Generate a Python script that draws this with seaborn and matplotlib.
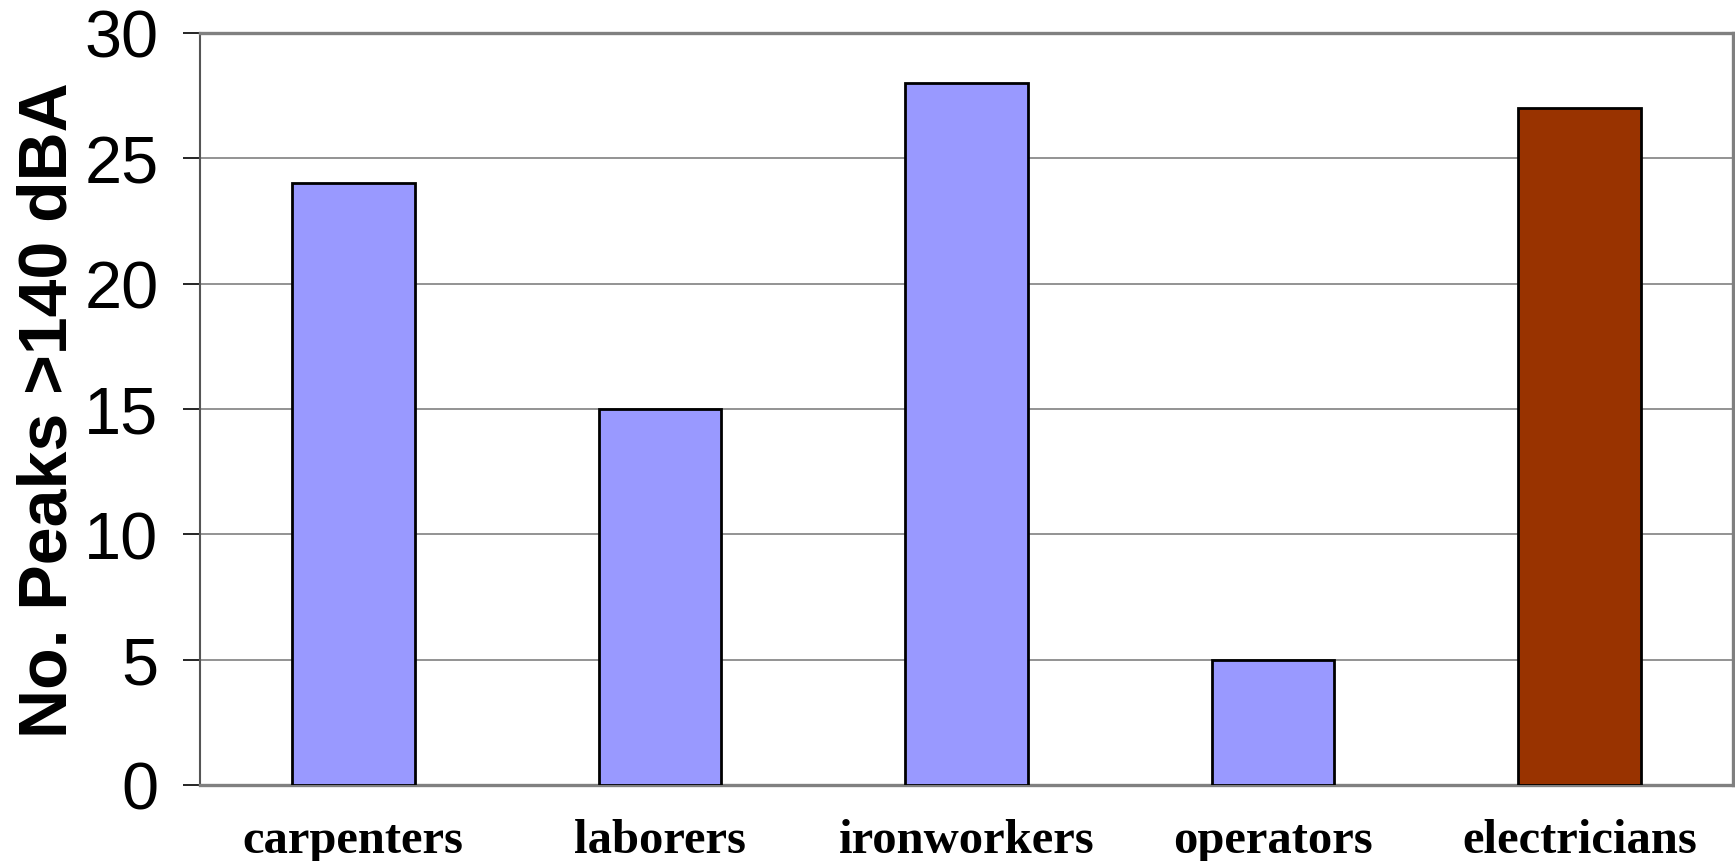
"""Bar chart: number of noise peaks above 140 dBA by construction trade."""

import matplotlib

matplotlib.use("Agg")

import matplotlib.pyplot as plt
import pandas as pd
import seaborn as sns

TRADES = ["carpenters", "laborers", "ironworkers", "operators", "electricians"]
PEAK_COUNTS = [24, 15, 28, 5, 27]
BAR_COLORS = ["#9999FF", "#9999FF", "#9999FF", "#9999FF", "#993300"]
Y_TICKS = [0, 5, 10, 15, 20, 25, 30]

sns.set_style("white")
plt.rcParams["font.family"] = ["Liberation Sans", "DejaVu Sans"]
plt.rcParams["text.color"] = "black"
plt.rcParams["xtick.color"] = "black"
plt.rcParams["ytick.color"] = "black"
plt.rcParams["axes.labelcolor"] = "black"

df = pd.DataFrame({"trade": TRADES, "peaks": PEAK_COUNTS})

fig = plt.figure(figsize=(17.35, 8.62), dpi=100)
ax = fig.add_axes([0.1153, 0.0882, 0.8835, 0.8724])

sns.barplot(
    data=df,
    x="trade",
    y="peaks",
    hue="trade",
    palette=BAR_COLORS,
    legend=False,
    width=0.4,
    edgecolor="black",
    linewidth=2.0,
    saturation=1,
    ax=ax,
    zorder=3,
)

ax.set_ylim(0, 30)
ax.set_xlim(-0.5, len(TRADES) - 0.5)
ax.set_yticks(Y_TICKS)
ax.yaxis.grid(True, color="#808080", linewidth=1.2, zorder=0)
ax.set_axisbelow(True)

for side in ["top", "right", "bottom"]:
    ax.spines[side].set_color("#808080")
    ax.spines[side].set_linewidth(2.4)
ax.spines["left"].set_color("#555555")
ax.spines["left"].set_linewidth(1.5)

ax.tick_params(axis="y", which="major", length=12, width=1.2, color="black",
               pad=18, left=True, direction="out", labelcolor="black")
ax.tick_params(axis="x", length=0, pad=24, labelcolor="black")

for lbl in ax.get_yticklabels():
    lbl.set_family(["Liberation Sans", "DejaVu Sans"])
    lbl.set_fontsize(48)
for lbl in ax.get_xticklabels():
    lbl.set_family(["Liberation Serif", "DejaVu Serif"])
    lbl.set_fontweight("bold")
    lbl.set_fontsize(35)

ax.set_xlabel("")
ax.set_ylabel("No. Peaks >140 dBA", fontsize=49, fontweight="bold",
              family=["Liberation Sans", "DejaVu Sans"], color="black")
# ylabel anchors on its right side once rotated
ax.yaxis.set_label_coords(-0.078, 0.5)

fig.savefig("out.png", dpi=100)
plt.close(fig)
